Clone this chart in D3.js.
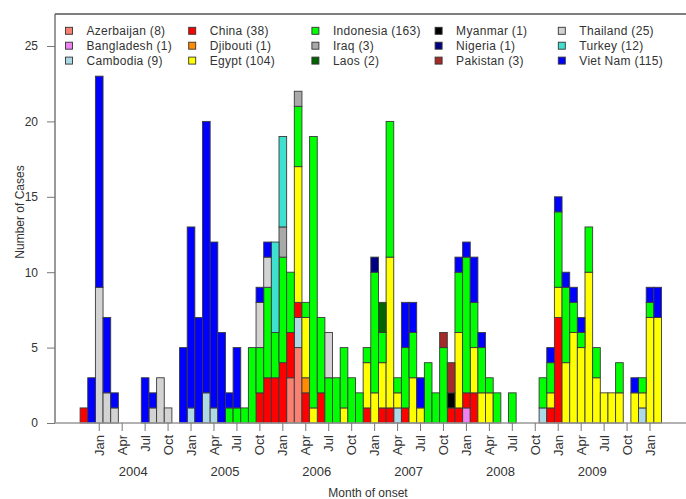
<!DOCTYPE html>
<html><head><meta charset="utf-8">
<script src="https://cdn.jsdelivr.net/npm/d3@7/dist/d3.min.js"></script>
<style>body{margin:0;background:#fff}svg{display:block}text{font-family:"Liberation Sans",Arial,sans-serif;fill:#333}</style>
</head><body><svg id="c" width="686" height="499"></svg>
<script>
// Months shown: Nov 2003 .. Feb 2010 (one bar per month)
const firstMonth = new Date(2003, 10, 1), lastMonth = new Date(2010, 1, 1);
const tickMonthNames = ["Jan", "Apr", "Jul", "Oct"];
const yearLabels = ["2004", "2005", "2006", "2007", "2008", "2009"];
const yTicks = [0, 5, 10, 15, 20, 25];

const countries = ["Azerbaijan","Bangladesh","Cambodia","China","Djibouti","Egypt","Indonesia","Iraq","Laos","Myanmar","Nigeria","Pakistan","Thailand","Turkey","Viet Nam"];
const colors = ["#fa8072","#ee82ee","#add8e6","#ff0000","#ff8c00","#ffff00","#00ff00","#a9a9a9","#006400","#000000","#000080","#a52a2a","#d3d3d3","#40e0d0","#0000ff"];

// rows: [Nov03,Dec03], 2004, 2005, 2006, 2007, 2008, 2009, [Jan10,Feb10]
const azerbaijan = [0,0,
 0,0,0,0,0,0,0,0,0,0,0,0,
 0,0,0,0,0,0,0,0,0,0,0,0,
 0,3,5,0,0,0,0,0,0,0,0,0,
 0,0,0,0,0,0,0,0,0,0,0,0,
 0,0,0,0,0,0,0,0,0,0,0,0,
 0,0,0,0,0,0,0,0,0,0,0,0,
 0,0];
const bangladesh = [0,0,
 0,0,0,0,0,0,0,0,0,0,0,0,
 0,0,0,0,0,0,0,0,0,0,0,0,
 0,0,0,0,0,0,0,0,0,0,0,0,
 0,0,0,0,0,0,0,0,0,0,0,0,
 1,0,0,0,0,0,0,0,0,0,0,0,
 0,0,0,0,0,0,0,0,0,0,0,0,
 0,0];
const cambodia = [0,0,
 0,0,0,0,0,0,0,0,0,0,0,0,
 1,0,2,1,0,0,0,0,0,0,0,0,
 0,0,2,0,0,0,0,0,0,0,0,0,
 0,0,0,1,0,0,0,0,0,0,0,0,
 0,0,0,0,0,0,0,0,0,0,1,0,
 0,0,0,0,0,0,0,0,0,0,0,1,
 0,0];
const china = [1,0,
 0,0,0,0,0,0,0,0,0,0,0,0,
 0,0,0,0,0,0,0,0,0,2,3,3,
 4,3,1,2,0,2,0,0,0,0,0,1,
 0,1,1,0,1,0,0,0,0,0,1,1,
 1,2,0,0,0,0,0,0,0,0,0,1,
 7,0,0,0,0,0,0,0,0,0,0,0,
 0,0];
const djibouti = [0,0,
 0,0,0,0,0,0,0,0,0,0,0,0,
 0,0,0,0,0,0,0,0,0,0,0,0,
 0,0,0,1,0,0,0,0,0,0,0,0,
 0,0,0,0,0,0,0,0,0,0,0,0,
 0,0,0,0,0,0,0,0,0,0,0,0,
 0,0,0,0,0,0,0,0,0,0,0,0,
 0,0];
const egypt = [0,0,
 0,0,0,0,0,0,0,0,0,0,0,0,
 0,0,0,0,0,0,0,0,0,0,0,0,
 0,0,9,4,1,0,0,0,1,0,0,3,
 2,3,10,1,0,3,1,0,0,0,0,5,
 0,3,2,2,0,0,0,0,0,0,0,1,
 2,4,6,5,10,3,2,2,2,0,2,1,
 7,7];
const indonesia = [0,0,
 0,0,0,0,0,0,0,0,0,0,0,0,
 0,0,0,0,0,1,1,1,5,3,6,3,
 7,4,4,1,18,5,3,3,4,3,2,1,
 8,2,9,1,4,3,0,4,2,5,0,4,
 9,3,3,1,2,0,2,0,0,0,2,2,
 5,5,2,1,3,2,0,0,2,0,0,1,
 1,0];
const iraq = [0,0,
 0,0,0,0,0,0,0,0,0,0,0,0,
 0,0,0,0,0,0,0,0,0,0,0,0,
 2,0,1,0,0,0,0,0,0,0,0,0,
 0,0,0,0,0,0,0,0,0,0,0,0,
 0,0,0,0,0,0,0,0,0,0,0,0,
 0,0,0,0,0,0,0,0,0,0,0,0,
 0,0];
const laos = [0,0,
 0,0,0,0,0,0,0,0,0,0,0,0,
 0,0,0,0,0,0,0,0,0,0,0,0,
 0,0,0,0,0,0,0,0,0,0,0,0,
 0,2,0,0,0,0,0,0,0,0,0,0,
 0,0,0,0,0,0,0,0,0,0,0,0,
 0,0,0,0,0,0,0,0,0,0,0,0,
 0,0];
const myanmar = [0,0,
 0,0,0,0,0,0,0,0,0,0,0,0,
 0,0,0,0,0,0,0,0,0,0,0,0,
 0,0,0,0,0,0,0,0,0,0,0,0,
 0,0,0,0,0,0,0,0,0,0,1,0,
 0,0,0,0,0,0,0,0,0,0,0,0,
 0,0,0,0,0,0,0,0,0,0,0,0,
 0,0];
const nigeria = [0,0,
 0,0,0,0,0,0,0,0,0,0,0,0,
 0,0,0,0,0,0,0,0,0,0,0,0,
 0,0,0,0,0,0,0,0,0,0,0,0,
 1,0,0,0,0,0,0,0,0,0,0,0,
 0,0,0,0,0,0,0,0,0,0,0,0,
 0,0,0,0,0,0,0,0,0,0,0,0,
 0,0];
const pakistan = [0,0,
 0,0,0,0,0,0,0,0,0,0,0,0,
 0,0,0,0,0,0,0,0,0,0,0,0,
 0,0,0,0,0,0,0,0,0,0,0,0,
 0,0,0,0,0,0,0,0,0,1,2,0,
 0,0,0,0,0,0,0,0,0,0,0,0,
 0,0,0,0,0,0,0,0,0,0,0,0,
 0,0];
const thailand = [0,0,
 9,2,1,0,0,0,0,1,3,1,0,0,
 0,0,0,0,0,0,0,0,0,3,2,0,
 0,0,0,0,0,0,3,0,0,0,0,0,
 0,0,0,0,0,0,0,0,0,0,0,0,
 0,0,0,0,0,0,0,0,0,0,0,0,
 0,0,0,0,0,0,0,0,0,0,0,0,
 0,0];
const turkey = [0,0,
 0,0,0,0,0,0,0,0,0,0,0,0,
 0,0,0,0,0,0,0,0,0,0,0,6,
 6,0,0,0,0,0,0,0,0,0,0,0,
 0,0,0,0,0,0,0,0,0,0,0,0,
 0,0,0,0,0,0,0,0,0,0,0,0,
 0,0,0,0,0,0,0,0,0,0,0,0,
 0,0];
const vietNam = [0,3,
 14,5,1,0,0,0,3,1,0,0,0,5,
 12,7,18,11,6,1,4,0,0,1,1,0,
 0,0,0,0,0,0,0,0,0,0,0,0,
 0,0,0,0,3,2,2,0,0,0,0,1,
 1,3,1,0,0,0,0,0,0,0,0,1,
 1,1,1,1,0,0,0,0,0,0,1,0,
 1,2];
const series = [azerbaijan,bangladesh,cambodia,china,djibouti,egypt,indonesia,iraq,laos,myanmar,nigeria,pakistan,thailand,turkey,vietNam];

const months = d3.timeMonth.range(firstMonth, d3.timeMonth.offset(lastMonth, 1));
const table = months.map((m, i) => {
  const row = {month: m};
  countries.forEach((c, k) => row[c] = series[k][i]);
  return row;
});

const svg = d3.select("#c");
const W = 686, H = 499;
const plotL = 55, plotT = 14, baseY = 423;

const x = d3.scaleBand().domain(months).range([80.1, 661.5]).padding(0);
const y = d3.scaleLinear().domain([0, 25]).range([baseY, 46]);
const color = d3.scaleOrdinal().domain(countries).range(colors);

const stacked = d3.stack().keys(countries)(table);

// bars
const g = svg.append("g");
g.selectAll("g.layer").data(stacked).join("g").attr("class", "layer")
  .attr("fill", d => color(d.key))
  .selectAll("rect").data(d => d.filter(s => s[1] - s[0] > 0)).join("rect")
  .attr("x", d => x(d.data.month))
  .attr("width", x.bandwidth())
  .attr("y", d => y(d[1]))
  .attr("height", d => y(d[0]) - y(d[1]))
  .attr("stroke", "#3a3a3a").attr("stroke-width", 0.9);

// box lines
svg.append("line").attr("x1", plotL).attr("x2", W).attr("y1", plotT).attr("y2", plotT)
  .attr("stroke", "#555").attr("stroke-width", 1.5);
svg.append("line").attr("x1", plotL).attr("x2", plotL).attr("y1", plotT).attr("y2", baseY)
  .attr("stroke", "#555").attr("stroke-width", 1.2);

// y axis
const yAxis = svg.append("g").attr("transform", `translate(${plotL},0)`)
  .call(d3.axisLeft(y).tickValues(yTicks).tickSize(8).tickPadding(9));
yAxis.select(".domain").remove();
yAxis.selectAll(".tick line").attr("stroke", "#777");
yAxis.selectAll(".tick text").style("font-size", "12px").attr("fill", "#333");

// baseline
svg.append("line").attr("x1", plotL).attr("x2", W).attr("y1", baseY).attr("y2", baseY)
  .attr("stroke", "#999").attr("stroke-width", 1.5);

// x axis
const tickMonths = months.filter(m => tickMonthNames.includes(d3.timeFormat("%b")(m)));
const xAxis = svg.append("g").attr("transform", `translate(0,${baseY})`)
  .call(d3.axisBottom(x).tickValues(tickMonths).tickSize(8).tickFormat(d3.timeFormat("%b")));
xAxis.select(".domain").remove();
xAxis.selectAll(".tick line").attr("stroke", "#777");
xAxis.selectAll(".tick text")
  .attr("transform", "rotate(-90)").attr("x", -12).attr("y", 0).attr("dy", "0.35em")
  .style("text-anchor", "end").style("font-size", "13px").attr("fill", "#333");

// year labels
svg.append("g").selectAll("text").data(yearLabels).join("text")
  .attr("x", d => x(new Date(+d, 0, 1)) + x.bandwidth() / 2 + 34)
  .attr("y", 476).attr("text-anchor", "middle").style("font-size", "13px").text(d => d);

// axis titles
svg.append("text").attr("x", 368).attr("y", 497).attr("text-anchor", "middle")
  .style("font-size", "12px").text("Month of onset");
svg.append("text").attr("transform", "translate(24,212) rotate(-90)").attr("text-anchor", "middle")
  .style("font-size", "12px").text("Number of Cases");

// legend
const totals = series.map(s => d3.sum(s));
const leg = svg.append("g").selectAll("g").data(countries).join("g")
  .attr("transform", (d, i) => `translate(${69 + 123.2 * Math.floor(i / 3)},${30.8 + 14.9 * (i % 3)})`);
leg.append("rect").attr("x", -3.5).attr("y", -3.5).attr("width", 7).attr("height", 7)
  .attr("fill", d => color(d)).attr("stroke", "#333").attr("stroke-width", 0.9);
leg.append("text").attr("x", 17.5).attr("dy", "0.36em").style("font-size", "12px")
  .style("letter-spacing", "0.3px").text((d, i) => `${d} (${totals[i]})`);
</script></body></html>
